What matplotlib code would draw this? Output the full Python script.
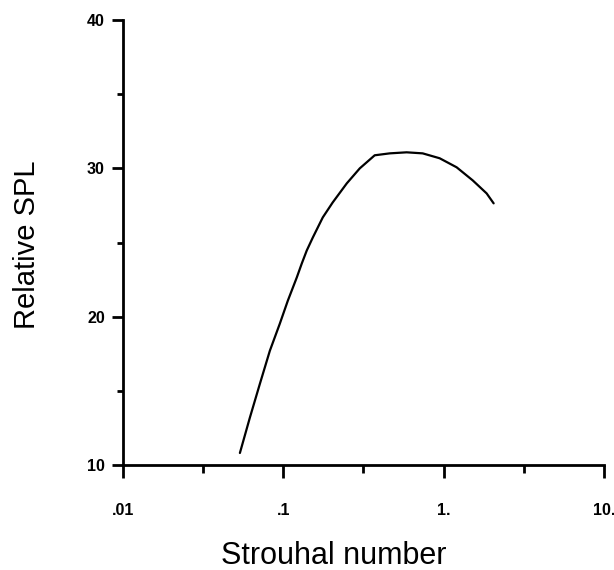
import matplotlib.pyplot as plt

plt.rcParams["font.family"] = ["Liberation Sans", "DejaVu Sans"]

# Relative SPL spectrum vs Strouhal number
strouhal = [0.0536, 0.0618, 0.0714, 0.0824, 0.0951, 0.1067, 0.1213, 0.1303,
            0.140, 0.1528, 0.1762, 0.2032, 0.2489, 0.2999, 0.3715, 0.4613,
            0.5875, 0.7396, 0.944, 1.205, 1.517, 1.854, 2.05]
rel_spl = [10.81, 13.18, 15.47, 17.70, 19.53, 21.08, 22.64, 23.58,
           24.46, 25.34, 26.69, 27.70, 28.99, 30.0, 30.88, 31.01,
           31.08, 31.01, 30.68, 30.07, 29.19, 28.31, 27.64]

x_major = [0.01, 0.1, 1.0, 10.0]
x_major_labels = [".01", ".1", "1.", "10."]
x_minor = [10 ** -1.5, 10 ** -0.5, 10 ** 0.5]
y_major = [10, 20, 30, 40]
y_minor = [15, 25, 35]

fig = plt.figure(figsize=(6.14, 5.70), dpi=100)
ax = fig.add_axes([0.2003, 0.1842, 0.7834, 0.7807])

ax.plot(strouhal, rel_spl, color="black", linewidth=1.6,
        solid_joinstyle="round", solid_capstyle="round")

ax.set_xscale("log")
ax.set_xlim(0.01, 10)
ax.set_ylim(10, 40)

ax.set_xticks(x_major)
ax.set_xticklabels(x_major_labels)
ax.set_xticks(x_minor, minor=True)
ax.set_xticklabels([], minor=True)
ax.set_yticks(y_major)
ax.set_yticklabels([str(v) for v in y_major])
ax.set_yticks(y_minor, minor=True)

for side in ("top", "right"):
    ax.spines[side].set_visible(False)
for side in ("left", "bottom"):
    ax.spines[side].set_linewidth(2.0)

ax.tick_params(axis="x", which="major", direction="out", length=9, width=2,
               pad=18, labelsize=11.5)
ax.tick_params(axis="x", which="minor", direction="out", length=6, width=2)
ax.tick_params(axis="y", which="major", direction="out", length=8, width=2,
               pad=5, labelsize=11.5)
ax.tick_params(axis="y", which="minor", direction="out", length=4, width=2)
for lab in ax.get_xticklabels() + ax.get_yticklabels():
    lab.set_fontweight("bold")

ax.set_xlabel("Strouhal number", fontsize=22)
ax.xaxis.set_label_coords(0.439, -0.170)
ax.set_ylabel("Relative SPL", fontsize=21)
ax.yaxis.set_label_coords(-0.17, 0.495)

fig.savefig("out.png", dpi=100)
